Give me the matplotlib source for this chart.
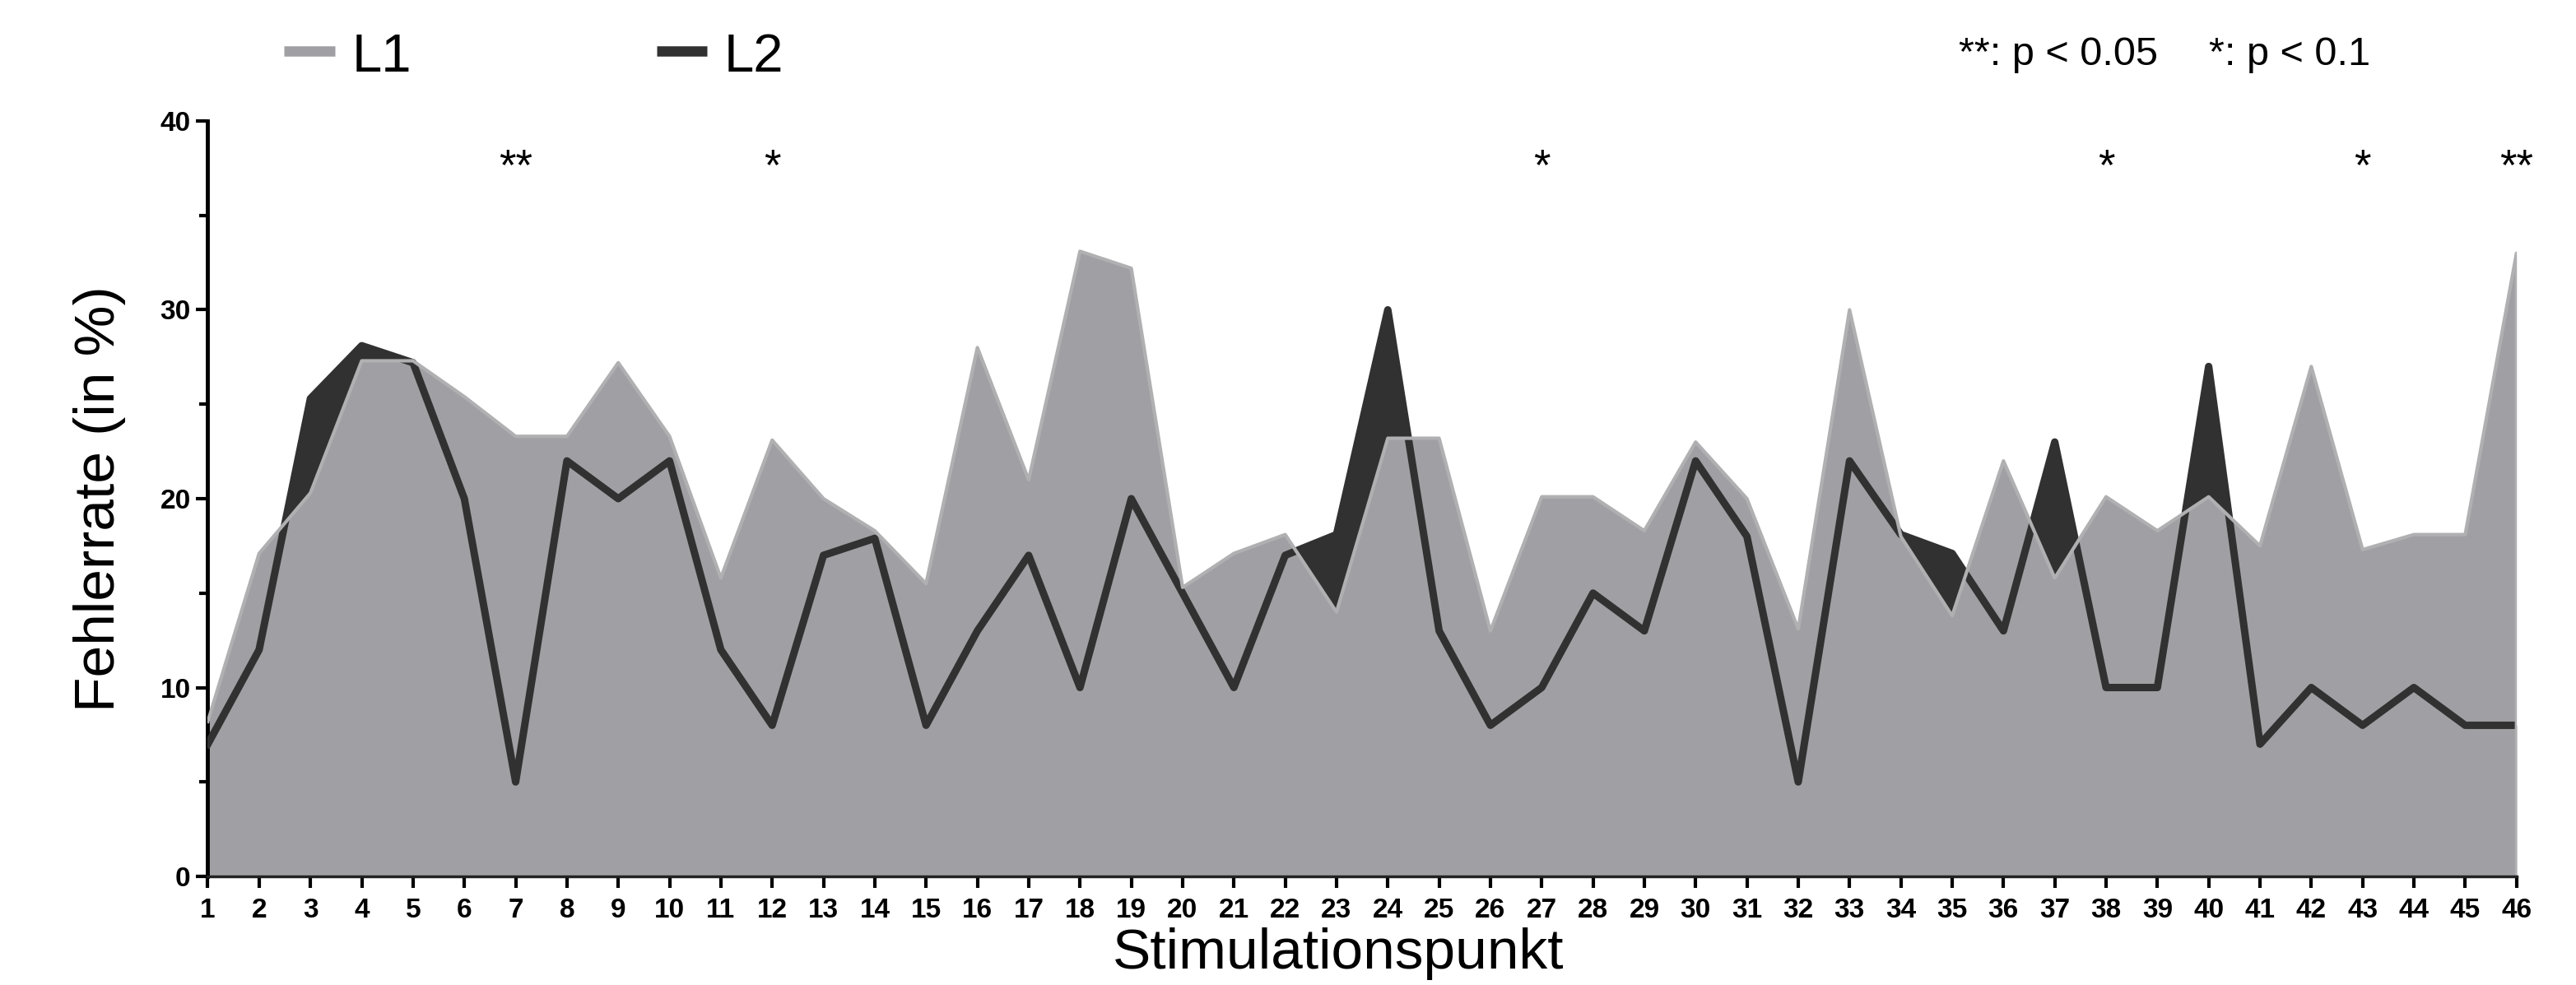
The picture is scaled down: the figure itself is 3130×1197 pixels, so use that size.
import matplotlib
matplotlib.use("Agg")
import matplotlib.pyplot as plt
from matplotlib.lines import Line2D
from matplotlib.ticker import MultipleLocator

plt.rcParams['font.family'] = ['Liberation Sans', 'DejaVu Sans']

# Stimulationspunkte 1..46
punkte = list(range(1, 47))
# Fehlerrate L1 (in %)
l1 = [8.2, 17.1, 20.3, 27.3, 27.3, 25.4, 23.3, 23.3, 27.2, 23.3,
      15.8, 23.1, 20.0, 18.3, 15.5, 28.0, 21.0, 33.1, 32.2, 15.3,
      17.1, 18.1, 14.0, 23.2, 23.2, 13.0, 20.1, 20.1, 18.3, 23.0,
      20.0, 13.1, 30.0, 18.0, 13.8, 22.0, 15.8, 20.1, 18.3, 20.1,
      17.5, 27.0, 17.3, 18.1, 18.1, 33.0]
# Fehlerrate L2 (in %)
l2 = [7.0, 12.0, 25.3, 28.1, 27.2, 20.0, 5.0, 22.0, 20.0, 22.0,
      12.0, 8.0, 17.0, 17.9, 8.0, 13.0, 17.0, 10.0, 20.0, 15.0,
      10.0, 17.0, 18.1, 30.0, 13.0, 8.0, 10.0, 15.0, 13.0, 22.0,
      18.0, 5.0, 22.0, 18.1, 17.1, 13.0, 23.0, 10.0, 10.0, 27.0,
      7.0, 10.0, 8.0, 10.0, 8.0, 8.0]
# Signifikanz-Markierungen
sig_punkte = [7, 12, 27, 38, 43, 46]
sig_text = ["**", "*", "*", "*", "*", "**"]

farbe_l1 = "#a0a0a4"
rand_l1 = "#b0b0b2"
farbe_l2 = "#313131"
schmal = ['Liberation Sans Narrow', 'Liberation Sans', 'DejaVu Sans']

W, H = 3130, 1197
fig = plt.figure(figsize=(W / 100, H / 100), dpi=100)
ax = fig.add_axes([252.5 / W, 1 - 1065 / H, (3057.7 - 252.5) / W, (1065 - 147) / H])

# L2 dunkel unten, L1 hell darueber, dann L2-Linie
ax.fill_between(punkte, 0, l2, color=farbe_l2, lw=0, zorder=1)
ax.fill_between(punkte, 0, l1, color=farbe_l1, lw=0, zorder=2)
ax.plot(punkte, l2, color=farbe_l2, lw=6.5, zorder=3)
ax.plot(punkte + [46], l1 + [0], color=rand_l1, lw=3, zorder=4)

for xp, t in zip(sig_punkte, sig_text):
    ax.text(xp, 38.6, t, ha="center", va="top", fontsize=38, color="black")

ax.set_xlim(1, 46)
ax.set_ylim(0, 40)
ax.set_xticks(punkte)
ax.yaxis.set_major_locator(MultipleLocator(10))
ax.yaxis.set_minor_locator(MultipleLocator(5))
ax.spines["top"].set_visible(False)
ax.spines["right"].set_visible(False)
ax.spines["left"].set_linewidth(3.5)
ax.spines["bottom"].set_linewidth(2.5)
ax.spines["bottom"].set_color("#222222")
ax.spines["bottom"].set_zorder(5)
ax.tick_params(axis="x", which="major", length=10, width=3, labelsize=24, pad=9)
ax.tick_params(axis="y", which="major", length=10, width=3, labelsize=24, pad=5)
ax.tick_params(axis="y", which="minor", length=7, width=3)
for lab in ax.get_xticklabels() + ax.get_yticklabels():
    lab.set_fontweight("bold")
    lab.set_family(schmal)

ax.set_xlabel("Stimulationspunkt", fontsize=50)
ax.xaxis.label.set_va("baseline")
ax.xaxis.set_label_coords((1626 - 252.5) / (3057.7 - 252.5), (1065 - 1177) / 918)
ax.set_ylabel("Fehlerrate (in %)", fontsize=50)
ax.yaxis.set_label_coords((153 - 252.5) / (3057.7 - 252.5), 0.5)

# Legende oben
y_leg = 1 - 62 / H
fig.add_artist(Line2D([345 / W, 407 / W], [y_leg, y_leg], color=farbe_l1, lw=9,
                      solid_capstyle="butt", transform=fig.transFigure))
fig.text(428 / W, 1 - 87 / H, "L1", fontsize=47, va="baseline", ha="left")
fig.add_artist(Line2D([798 / W, 859 / W], [y_leg, y_leg], color=farbe_l2, lw=9,
                      solid_capstyle="butt", transform=fig.transFigure))
fig.text(880 / W, 1 - 87 / H, "L2", fontsize=47, va="baseline", ha="left")
fig.text(2380 / W, 1 - 79 / H, "**: p < 0.05", fontsize=35, va="baseline", ha="left")
fig.text(2684 / W, 1 - 79 / H, "*: p < 0.1", fontsize=35, va="baseline", ha="left")

fig.savefig("out.png", dpi=100)
